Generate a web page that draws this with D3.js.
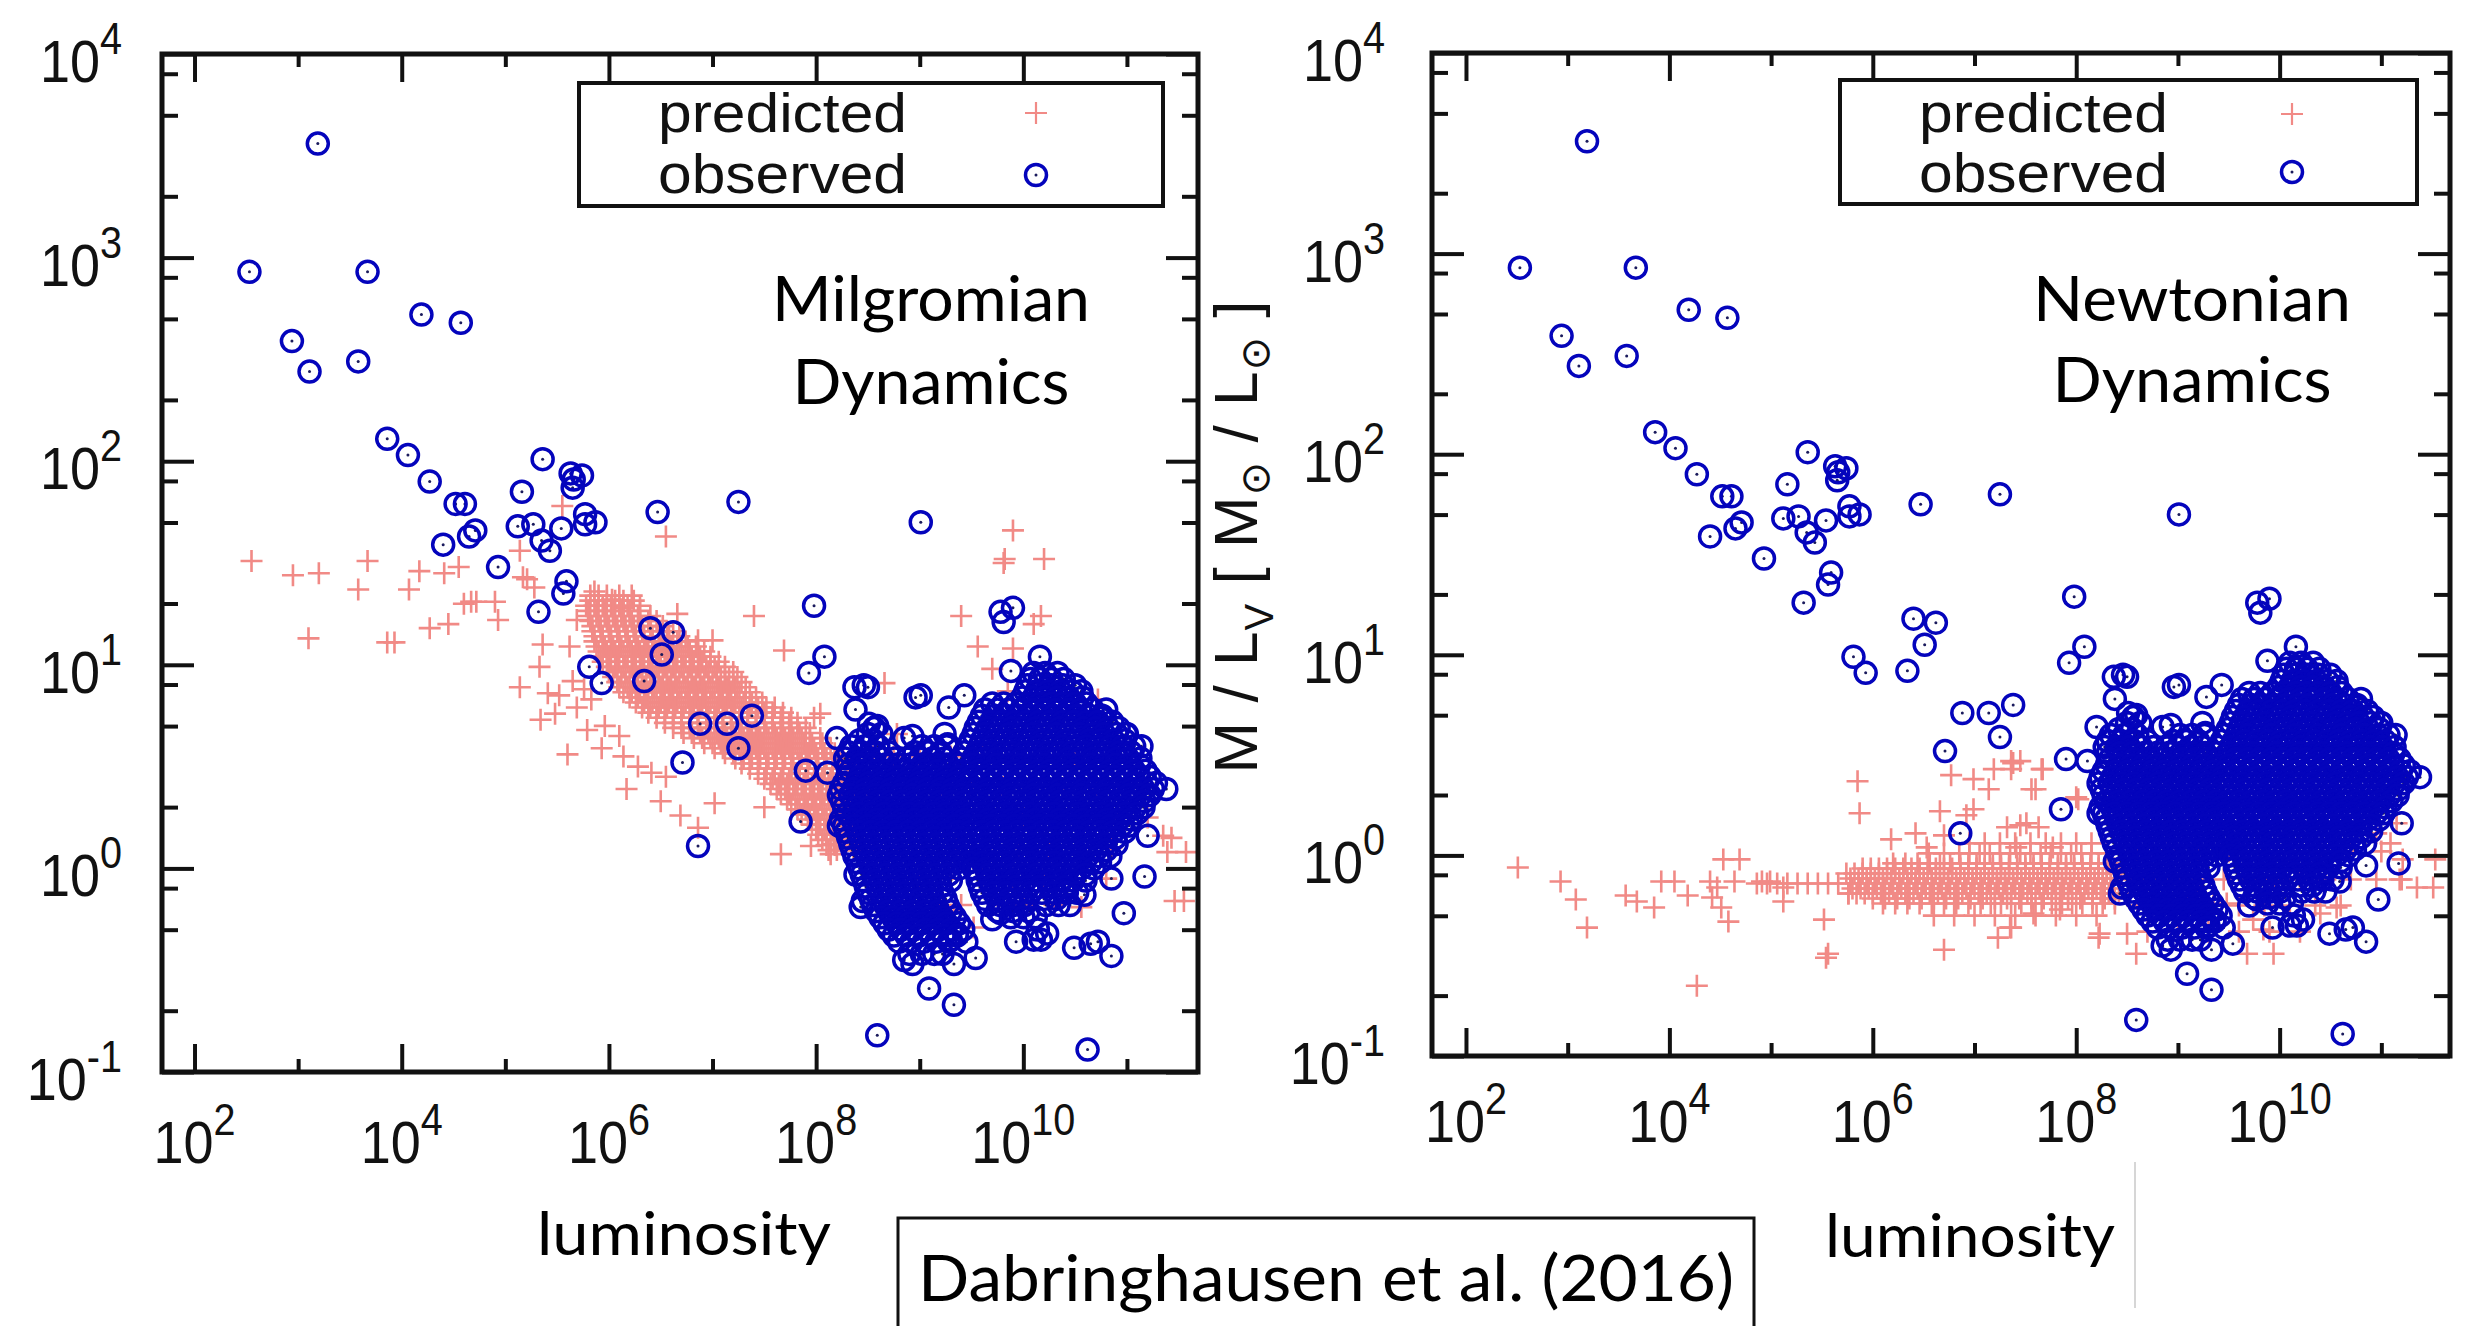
<!DOCTYPE html>
<html>
<head>
<meta charset="utf-8">
<script src="https://cdn.jsdelivr.net/npm/d3@7"></script>
<style>
  html, body { margin: 0; padding: 0; background: #fff; }
  svg { display: block; }
</style>
</head>
<body>
<svg id="fig" width="2471" height="1326"></svg>
<script>
// All values are log10(L_V / L_sun) and log10(M / L_V).

// Galaxies with an observed (dynamical) M/L — the same sample is shown in both panels.
const observedSparse = [
  [3.19,3.56],[2.53,2.93],[3.67,2.93],[4.19,2.72],[4.57,2.68],[2.94,2.59],[3.11,2.44],[3.58,2.49],
  [3.86,2.11],[4.06,2.03],[4.27,1.90],[4.52,1.79],[4.61,1.79],[4.40,1.59],[4.65,1.63],[4.71,1.66],[4.93,1.48],
  [5.16,1.85],[5.36,2.01],[5.12,1.68],[5.27,1.69],[5.35,1.61],[5.43,1.56],[5.54,1.67],
  [5.63,1.94],[5.74,1.93],[5.65,1.87],[5.66,1.91],[5.77,1.74],[5.77,1.69],[5.87,1.70],
  [5.59,1.41],[5.56,1.35],[5.32,1.26],
  [6.47,1.75],[7.25,1.80],[9.01,1.70],
  [7.98,1.29],[6.40,1.18],[6.62,1.16],[6.51,1.05],
  [8.08,1.04],[7.93,0.96],
  [9.78,1.26],[9.90,1.28],[9.81,1.21],[10.16,1.04],[9.88,0.97],
  [5.81,0.99],[5.93,0.91],[6.34,0.92],
  [6.88,0.71],[7.14,0.71],[7.38,0.75],[7.25,0.59],[6.71,0.52],[6.86,0.11],
  [7.85,0.23],[7.90,0.48],[8.11,0.47],
  [8.37,0.89],[8.46,0.90],[8.50,0.89],[8.38,0.78],
  [8.96,0.84],[9.01,0.85],[9.28,0.79],[9.43,0.85],[9.27,0.61],
  [8.20,0.64],[8.56,0.69],[8.59,0.70],[8.51,0.71],[8.85,0.64],[8.93,0.65],[9.24,0.66],
  [10.56,0.87],[10.75,0.74],[10.99,0.66],[11.14,0.60],[11.38,0.39],[11.20,0.16],[11.17,-0.04],
  [10.85,-0.05],[10.97,-0.22],[10.72,-0.36],[10.85,-0.43],[10.62,-0.89],
  [8.59,-0.82],[9.09,-0.59],[9.33,-0.67],[9.33,-0.47],[9.54,-0.44],[8.93,-0.47],[8.85,-0.45],[9.30,-0.35],[9.36,-0.32],
  [9.93,-0.36],[10.10,-0.35],[10.14,-0.30],[9.70,-0.25],[9.78,-0.22],
  [8.43,-0.19],[8.45,-0.16],[8.38,-0.03],[8.22,0.21],
  [10.39,-0.11],[10.59,-0.13],[10.65,-0.37],[10.49,-0.39],[10.23,-0.32],[10.17,-0.35]
];

// The crowded bright-galaxy cloud, one row per M/L level: [log M/L, [log L, ...]].
const observedCloudRows = [
  [0.96, [10.10,10.21,10.33]],
  [0.93, [10.07,10.16,10.27,10.39]],
  [0.90, [10.04,10.15,10.27,10.38,10.50]],
  [0.87, [10.02,10.13,10.24,10.36,10.47]],
  [0.84, [9.99,10.10,10.21,10.33,10.44,10.57]],
  [0.81, [9.70,9.81,9.93,10.04,10.16,10.27,10.38,10.50,10.61]],
  [0.78, [9.63,9.75,9.86,9.98,10.09,10.21,10.32,10.44,10.55,10.67,10.80]],
  [0.75, [9.60,9.72,9.83,9.95,10.06,10.18,10.29,10.41,10.52,10.64,10.76]],
  [0.72, [9.57,9.69,9.80,9.92,10.03,10.15,10.26,10.38,10.49,10.61,10.72,10.86]],
  [0.69, [9.54,9.66,9.77,9.89,10.00,10.12,10.23,10.35,10.46,10.58,10.70,10.82,10.92]],
  [0.66, [8.50,8.63,9.52,9.63,9.75,9.86,9.98,10.09,10.21,10.32,10.44,10.55,10.67,10.78,10.90,11.00]],
  [0.63, [8.42,8.55,9.49,9.60,9.72,9.83,9.95,10.06,10.18,10.29,10.41,10.52,10.64,10.75,10.87,10.98]],
  [0.60, [8.34,8.47,8.60,9.02,9.14,9.26,9.46,9.58,9.69,9.81,9.92,10.04,10.15,10.27,10.38,10.50,10.61,10.73,10.84,10.96,11.07]],
  [0.57, [8.31,8.44,8.57,8.70,8.95,9.08,9.20,9.43,9.55,9.66,9.78,9.89,10.01,10.12,10.24,10.35,10.47,10.58,10.70,10.81,10.93,11.04]],
  [0.54, [8.28,8.40,8.52,8.64,8.76,8.88,9.00,9.12,9.24,9.40,9.52,9.63,9.75,9.86,9.98,10.09,10.21,10.32,10.44,10.55,10.67,10.78,10.90,11.01,11.13]],
  [0.51, [8.31,8.43,8.55,8.67,8.79,8.91,9.03,9.15,9.27,9.39,9.51,9.63,9.74,9.86,9.97,10.09,10.20,10.32,10.43,10.55,10.66,10.78,10.89,11.01,11.12]],
  [0.48, [8.33,8.45,8.57,8.69,8.81,8.93,9.05,9.17,9.29,9.41,9.57,9.69,9.80,9.92,10.03,10.15,10.26,10.38,10.49,10.61,10.72,10.84,10.95,11.07,11.18]],
  [0.45, [8.30,8.42,8.54,8.66,8.78,8.90,9.02,9.14,9.26,9.38,9.50,9.62,9.73,9.85,9.96,10.08,10.19,10.31,10.42,10.54,10.65,10.77,10.88,11.00,11.11,11.22]],
  [0.42, [8.27,8.39,8.51,8.63,8.75,8.87,8.99,9.11,9.23,9.35,9.47,9.58,9.70,9.81,9.93,10.04,10.16,10.27,10.39,10.50,10.62,10.73,10.85,10.96,11.08,11.19,11.28]],
  [0.39, [8.24,8.36,8.48,8.60,8.72,8.84,8.96,9.08,9.20,9.32,9.44,9.55,9.67,9.78,9.90,10.01,10.13,10.24,10.36,10.47,10.59,10.70,10.82,10.93,11.05,11.16,11.25]],
  [0.36, [8.22,8.33,8.45,8.57,8.69,8.81,8.93,9.05,9.17,9.29,9.41,9.52,9.64,9.75,9.87,9.98,10.10,10.21,10.33,10.44,10.56,10.67,10.79,10.90,11.02,11.13,11.22]],
  [0.33, [8.25,8.36,8.48,8.60,8.72,8.84,8.96,9.08,9.20,9.32,9.44,9.55,9.67,9.78,9.90,10.01,10.13,10.24,10.36,10.47,10.59,10.70,10.82,10.93,11.05,11.17]],
  [0.30, [8.27,8.39,8.51,8.63,8.75,8.87,8.99,9.11,9.23,9.35,9.47,9.58,9.70,9.81,9.93,10.04,10.16,10.27,10.39,10.50,10.62,10.73,10.85,10.96,11.08,11.16]],
  [0.27, [8.30,8.42,8.54,8.66,8.78,8.90,9.02,9.14,9.26,9.38,9.50,9.61,9.73,9.84,9.96,10.07,10.19,10.30,10.42,10.53,10.65,10.76,10.88,10.99,11.10]],
  [0.24, [8.24,8.35,8.47,8.59,8.71,8.83,8.95,9.07,9.19,9.31,9.43,9.54,9.66,9.77,9.89,10.00,10.12,10.23,10.35,10.46,10.58,10.69,10.81,10.92,11.04]],
  [0.21, [8.27,8.38,8.50,8.62,8.74,8.86,8.98,9.10,9.22,9.34,9.46,9.57,9.69,9.80,9.92,10.03,10.15,10.26,10.38,10.49,10.61,10.72,10.84,10.95,11.02]],
  [0.18, [8.29,8.41,8.53,8.65,8.77,8.89,9.01,9.13,9.25,9.37,9.49,9.60,9.72,9.83,9.95,10.06,10.18,10.29,10.41,10.52,10.64,10.75,10.87,10.98]],
  [0.15, [8.31,8.43,8.55,8.67,8.79,8.91,9.03,9.15,9.27,9.39,9.51,9.62,9.74,9.85,9.97,10.08,10.20,10.31,10.43,10.54,10.66,10.77,10.89]],
  [0.12, [8.33,8.45,8.57,8.69,8.81,8.93,9.05,9.17,9.29,9.41,9.52,9.64,9.75,9.87,9.98,10.10,10.21,10.33,10.44,10.56,10.67,10.79,10.90]],
  [0.09, [8.35,8.47,8.59,8.71,8.83,8.95,9.07,9.19,9.31,9.43,9.55,9.67,9.78,9.90,10.01,10.13,10.24,10.36,10.47,10.59,10.70,10.80]],
  [0.06, [8.37,8.49,8.61,8.73,8.85,8.97,9.09,9.21,9.33,9.45,9.58,9.70,9.81,9.93,10.04,10.16,10.27,10.39,10.50,10.62,10.73,10.84]],
  [0.03, [8.40,8.52,8.64,8.76,8.88,9.00,9.12,9.24,9.36,9.48,9.61,9.73,9.84,9.96,10.07,10.19,10.30,10.42,10.53,10.65,10.74]],
  [0.00, [8.42,8.54,8.66,8.78,8.90,9.02,9.14,9.26,9.38,9.52,9.64,9.75,9.87,9.98,10.10,10.21,10.33,10.44,10.56,10.68]],
  [-0.03, [8.44,8.56,8.68,8.80,8.92,9.04,9.16,9.28,9.55,9.67,9.79,9.90,10.02,10.13,10.25,10.36,10.48,10.60]],
  [-0.06, [8.46,8.58,8.70,8.82,8.94,9.06,9.18,9.30,9.56,9.68,9.79,9.91,10.02,10.14,10.25,10.37,10.48,10.60]],
  [-0.09, [8.48,8.60,8.72,8.84,8.96,9.08,9.20,9.58,9.70,9.82,9.93,10.05,10.16,10.28,10.40]],
  [-0.12, [8.50,8.62,8.74,8.86,8.98,9.10,9.22,9.60,9.72,9.84,9.95,10.07,10.18,10.30,10.42,10.52]],
  [-0.15, [8.53,8.65,8.77,8.89,9.01,9.13,9.25,9.63,9.75,9.87,9.98,10.20,10.32]],
  [-0.18, [8.55,8.67,8.79,8.91,9.03,9.15,9.27,9.66,9.78,9.90,10.01,10.22,10.34,10.45]],
  [-0.21, [8.58,8.70,8.82,8.94,9.06,9.18,9.30,9.75,9.90,10.05]],
  [-0.24, [8.62,8.74,8.86,8.98,9.10,9.22,9.34,9.88,10.00,10.12]],
  [-0.27, [8.66,8.78,8.90,9.02,9.14,9.26,9.38]],
  [-0.30, [8.70,8.82,8.94,9.06,9.18,9.30,9.42]],
  [-0.33, [8.75,8.87,8.99,9.11,9.23,9.36]],
  [-0.36, [8.80,8.92,9.04,9.16,9.28,9.45]],
  [-0.42, [8.90,9.02,9.14,9.22]]
];

// M/L predicted with Milgromian dynamics.
const mondSparse = [
  [2.55,1.51],[2.95,1.44],[3.20,1.45],[3.67,1.51],[3.58,1.37],[3.10,1.13],[4.07,1.37],[4.17,1.46],[4.41,1.45],[4.55,1.48],
  [3.86,1.11],[3.93,1.11],[4.27,1.18],[4.45,1.20],[4.60,1.30],[4.67,1.31],[4.72,1.31],[4.90,1.31],[4.93,1.22],
  [5.14,1.56],[5.17,1.43],[5.21,1.42],[5.28,1.38],[5.55,1.78],[6.55,1.63],[5.36,1.10],[5.33,0.99],[5.14,0.89],
  [5.41,0.86],[5.52,0.85],[5.62,1.09],[5.69,1.22],[5.86,1.36],[6.03,1.32],[6.14,1.28],[5.60,0.56],[5.93,0.59],
  [6.17,0.39],[6.50,0.33],[6.69,0.26],[6.86,0.20],[7.02,0.32],[6.66,1.25],[6.86,1.12],[7.00,1.12],
  [5.34,0.73],[5.48,0.76],[5.69,0.79],[5.79,0.68],[5.96,0.70],[6.10,0.65],[6.14,0.55],[6.28,0.50],[6.41,0.47],
  [6.55,0.45],[5.76,0.88],[5.83,0.83],[5.65,0.92],
  [7.40,1.24],[7.69,1.07],[9.40,1.24],[9.56,1.09],[9.81,1.50],[9.90,1.66],[9.82,1.52],[10.20,1.52],
  [7.50,0.30],[7.66,0.07],[8.17,0.12],[10.17,1.24],[10.10,1.20],[9.90,1.08],[9.70,0.98],[8.66,0.91],
  [7.98,0.74],[8.04,0.76],[8.78,0.66],[9.85,0.87],[10.72,0.83],[8.14,0.07],[7.95,0.11],[9.33,-0.21],
  [9.52,-0.29],[11.39,0.08],[11.55,-0.16],[10.56,-0.19],[11.35,0.16],[11.57,0.08],[11.43,0.15],[11.46,-0.16]
];

const mondBandRows = [
  [1.34, [5.82,5.90,5.98,6.10,6.22]],
  [1.315, [5.82,5.90,5.98,6.06,6.14,6.24]],
  [1.29, [5.78,5.86,5.94,6.02,6.10,6.18,6.30]],
  [1.265, [5.80,5.88,5.96,6.04,6.12,6.20,6.30]],
  [1.24, [5.80,5.88,5.96,6.04,6.12,6.20,6.28,6.40]],
  [1.215, [5.82,5.90,5.98,6.06,6.14,6.22,6.30,6.38,6.46]],
  [1.19, [5.84,5.92,6.00,6.08,6.16,6.24,6.32,6.40,6.52]],
  [1.165, [5.84,5.92,6.00,6.08,6.16,6.24,6.32,6.40,6.48,6.56,6.62]],
  [1.14, [5.86,5.94,6.02,6.10,6.18,6.26,6.34,6.42,6.50,6.58,6.68]],
  [1.115, [5.86,5.94,6.02,6.10,6.18,6.26,6.34,6.42,6.50,6.58,6.66,6.74]],
  [1.09, [5.88,5.96,6.04,6.12,6.20,6.28,6.36,6.44,6.52,6.60,6.68,6.76,6.84]],
  [1.065, [5.90,5.98,6.06,6.14,6.22,6.30,6.38,6.46,6.54,6.62,6.70,6.78,6.86,6.92]],
  [1.04, [5.92,6.00,6.08,6.16,6.24,6.32,6.40,6.48,6.56,6.64,6.72,6.80,6.88,6.98]],
  [1.015, [5.94,6.02,6.10,6.18,6.26,6.34,6.42,6.50,6.58,6.66,6.74,6.82,6.90,6.98,7.06]],
  [0.99, [5.98,6.06,6.14,6.22,6.30,6.38,6.46,6.54,6.62,6.70,6.78,6.86,6.94,7.02,7.12]],
  [0.965, [6.00,6.08,6.16,6.24,6.32,6.40,6.48,6.56,6.64,6.72,6.80,6.88,6.96,7.04,7.12,7.20]],
  [0.94, [6.04,6.12,6.20,6.28,6.36,6.44,6.52,6.60,6.68,6.76,6.84,6.92,7.00,7.08,7.16,7.24]],
  [0.915, [6.08,6.16,6.24,6.32,6.40,6.48,6.56,6.64,6.72,6.80,6.88,6.96,7.04,7.12,7.20,7.28]],
  [0.89, [6.10,6.18,6.26,6.34,6.42,6.50,6.58,6.66,6.74,6.82,6.90,6.98,7.06,7.14,7.22,7.32]],
  [0.865, [6.14,6.22,6.30,6.38,6.46,6.54,6.62,6.70,6.78,6.86,6.94,7.02,7.10,7.18,7.26,7.36]],
  [0.84, [6.20,6.28,6.36,6.44,6.52,6.60,6.68,6.76,6.84,6.92,7.00,7.08,7.16,7.24,7.32,7.42]],
  [0.815, [6.26,6.34,6.42,6.50,6.58,6.66,6.74,6.82,6.90,6.98,7.06,7.14,7.22,7.30,7.38,7.48]],
  [0.79, [6.32,6.40,6.48,6.56,6.64,6.72,6.80,6.88,6.96,7.04,7.12,7.20,7.28,7.36,7.44,7.52,7.60]],
  [0.765, [6.38,6.46,6.54,6.62,6.70,6.78,6.86,6.94,7.02,7.10,7.18,7.26,7.34,7.42,7.50,7.58,7.68]],
  [0.74, [6.46,6.54,6.62,6.70,6.78,6.86,6.94,7.02,7.10,7.18,7.26,7.34,7.42,7.50,7.58,7.66,7.76]],
  [0.715, [6.54,6.62,6.70,6.78,6.86,6.94,7.02,7.10,7.18,7.26,7.34,7.42,7.50,7.58,7.66,7.74,7.82]],
  [0.69, [6.62,6.70,6.78,6.86,6.94,7.02,7.10,7.18,7.26,7.34,7.42,7.50,7.58,7.66,7.74,7.82,7.90]],
  [0.665, [6.72,6.80,6.88,6.96,7.04,7.12,7.20,7.28,7.36,7.44,7.52,7.60,7.68,7.76,7.84,7.94]],
  [0.64, [6.82,6.90,6.98,7.06,7.14,7.22,7.30,7.38,7.46,7.54,7.62,7.70,7.78,7.86,7.94,8.04]],
  [0.615, [6.92,7.00,7.08,7.16,7.24,7.32,7.40,7.48,7.56,7.64,7.72,7.80,7.88,7.96,8.06]],
  [0.59, [7.02,7.10,7.18,7.26,7.34,7.42,7.50,7.58,7.66,7.74,7.82,7.90,7.98,8.06,8.14]],
  [0.565, [7.12,7.20,7.28,7.36,7.44,7.52,7.60,7.68,7.76,7.84,7.92,8.00,8.08,8.18]],
  [0.54, [7.22,7.30,7.38,7.46,7.54,7.62,7.70,7.78,7.86,7.94,8.02,8.10,8.18,8.26]],
  [0.515, [7.28,7.36,7.44,7.52,7.60,7.68,7.76,7.84,7.92,8.00,8.08,8.16,8.24,8.30]],
  [0.49, [7.36,7.44,7.52,7.60,7.68,7.76,7.84,7.92,8.00,8.08,8.16,8.24,8.32]],
  [0.465, [7.44,7.52,7.60,7.68,7.76,7.84,7.92,8.00,8.08,8.16,8.24,8.32]],
  [0.44, [7.50,7.58,7.66,7.74,7.82,7.90,7.98,8.06,8.14,8.22,8.30,8.38]],
  [0.415, [7.56,7.64,7.72,7.80,7.88,7.96,8.04,8.12,8.20,8.28,8.36]],
  [0.39, [7.62,7.70,7.78,7.86,7.94,8.02,8.10,8.18,8.26,8.34,8.42]],
  [0.365, [7.66,7.74,7.82,7.90,7.98,8.06,8.14,8.22,8.30,8.38]],
  [0.34, [7.72,7.80,7.88,7.96,8.04,8.12,8.20,8.28,8.36,8.44]],
  [0.315, [7.76,7.84,7.92,8.00,8.08,8.16,8.24,8.32,8.40]],
  [0.29, [7.82,7.90,7.98,8.06,8.14,8.22,8.30,8.38,8.46]],
  [0.265, [7.86,7.94,8.02,8.10,8.18,8.26,8.34,8.42]],
  [0.24, [7.92,8.00,8.08,8.16,8.24,8.32,8.40]],
  [0.215, [7.96,8.04,8.12,8.20,8.28,8.36]],
  [0.19, [8.00,8.08,8.16,8.24,8.32,8.40]],
  [0.165, [8.02,8.10,8.18,8.26,8.34]],
  [0.14, [8.06,8.14,8.22,8.30,8.38]],
  [0.115, [8.10,8.18,8.26,8.34]],
  [0.09, [8.12,8.20,8.28,8.36]],
  [0.55, [8.55,8.75,9.00,9.30,9.60,9.90,10.20,10.50,10.80]],
  [0.40, [8.50,8.70,8.95,9.20,9.50,9.80,10.10,10.40,10.70,11.00]],
  [0.25, [8.60,8.85,9.10,9.40,9.70,10.00,10.30,10.60,10.90,11.20]],
  [0.10, [8.55,8.80,9.05,9.35,9.65,9.95,10.25,10.55,10.85]],
  [-0.05, [8.70,9.00,9.30,9.60,9.90,10.20,10.50,10.80]],
  [-0.18, [9.20,9.40,9.80,10.00,10.30]]
];

// M/L predicted with Newtonian dynamics.
const newtonSparse = [
  [2.51,-0.06],[2.93,-0.13],[3.08,-0.22],[3.19,-0.36],[3.57,-0.20],[3.68,-0.23],[3.85,-0.26],[3.92,-0.13],
  [4.05,-0.13],[4.18,-0.20],[4.27,-0.65],[4.40,-0.13],[4.47,-0.16],[4.42,-0.21],[4.53,-0.02],[4.69,-0.02],
  [4.64,-0.13],[4.58,-0.33],[4.51,-0.26],[4.91,-0.13],[4.99,-0.13],[5.12,-0.16],[5.12,-0.23],[5.52,-0.32],
  [5.56,-0.49],[5.54,-0.51],[5.76,-0.19],[5.85,0.37],[5.87,0.21],[6.18,0.08],[6.70,-0.47],[6.77,0.40],
  [6.99,0.38],[7.14,0.33],[6.66,0.22],[6.92,0.20],[6.99,0.23],[7.19,0.43],[7.36,0.47],[7.45,0.47],[7.36,0.43],
  [7.60,0.33],[7.67,0.43],[7.45,0.15],[7.63,0.14],[7.23,-0.41],[7.36,-0.36],[6.70,0.10],[6.53,0.04],[6.42,0.11],
  [8.02,0.28],[8.22,-0.41],[8.50,-0.39],[7.38,0.46],[7.66,0.43],[7.56,0.33],[8.00,0.29],[7.32,0.14],[7.51,0.16],
  [7.77,0.04],[7.41,0.04],[7.35,-0.36],[7.58,-0.29],[7.84,-0.27],[8.23,-0.39],[8.59,-0.49],[9.19,-0.19],
  [9.48,-0.24],[9.68,-0.49],[9.74,-0.32],[9.94,-0.49],[9.84,-0.37],[10.40,-0.29],[10.56,-0.26],[10.95,0.11],
  [11.09,0.06],[11.18,-0.12],[11.35,-0.16],[11.51,-0.16],[10.76,0.23],[11.21,-0.02],[11.53,-0.02],[11.15,0.16]
];

const newtonBandRows = [
  [0.06, [6.95,7.10,7.25,7.40,7.55,7.70,7.85,8.00,8.15]],
  [0.01, [6.55,6.70,6.85,6.95,7.05,7.15,7.25,7.35,7.45,7.55,7.65,7.75,7.85,7.95,8.05,8.15,8.30]],
  [-0.04, [6.20,6.32,6.44,6.56,6.66,6.76,6.86,6.94,7.02,7.10,7.18,7.26,7.34,7.42,7.50,7.58,7.66,7.74,7.82,7.90,7.98,8.06,8.14,8.22,8.32]],
  [-0.065, [5.90,5.98,6.06,6.14,6.22,6.30,6.38,6.46,6.54,6.62,6.70,6.78,6.86,6.94,7.02,7.10,7.18,7.26,7.34,7.42,7.50,7.58,7.66,7.74,7.82,7.90,7.98,8.06,8.14,8.22,8.30,8.38]],
  [-0.09, [5.74,5.82,5.90,5.98,6.06,6.14,6.22,6.30,6.38,6.46,6.54,6.62,6.70,6.78,6.86,6.94,7.02,7.10,7.18,7.26,7.34,7.42,7.50,7.58,7.66,7.74,7.82,7.90,7.98,8.06,8.14,8.22,8.30,8.40]],
  [-0.115, [5.78,5.86,5.94,6.02,6.10,6.18,6.26,6.34,6.42,6.50,6.58,6.66,6.74,6.82,6.90,6.98,7.06,7.14,7.22,7.30,7.38,7.46,7.54,7.62,7.70,7.78,7.86,7.94,8.02,8.10,8.18,8.26,8.34,8.42]],
  [-0.14, [4.86,4.96,5.06,5.16,5.26,5.36,5.46,5.56,5.66,5.78,5.86,5.94,6.02,6.10,6.18,6.26,6.34,6.42,6.50,6.58,6.66,6.74,6.82,6.90,6.98,7.06,7.14,7.22,7.30,7.38,7.46,7.54,7.62,7.70,7.78,7.86,7.94,8.02,8.10,8.18,8.26,8.34,8.44]],
  [-0.165, [5.80,5.88,5.96,6.04,6.12,6.20,6.28,6.36,6.44,6.52,6.60,6.68,6.76,6.84,6.92,7.00,7.08,7.16,7.24,7.32,7.40,7.48,7.56,7.64,7.72,7.80,7.88,7.96,8.04,8.12,8.20,8.28,8.36]],
  [-0.19, [5.76,5.84,5.92,6.00,6.08,6.16,6.24,6.32,6.40,6.48,6.56,6.64,6.72,6.80,6.88,6.96,7.04,7.12,7.20,7.28,7.36,7.44,7.52,7.60,7.68,7.76,7.84,7.92,8.00,8.08,8.16,8.24,8.32,8.42]],
  [-0.215, [6.00,6.12,6.24,6.36,6.48,6.60,6.72,6.84,6.96,7.08,7.20,7.32,7.44,7.56,7.68,7.80,7.92,8.04,8.16,8.28,8.38]],
  [-0.24, [6.10,6.22,6.34,6.46,6.58,6.70,6.82,6.94,7.06,7.16,7.26,7.36,7.46,7.56,7.66,7.76,7.86,7.96,8.06,8.16,8.26,8.38]],
  [-0.30, [6.60,6.80,7.00,7.20,7.40,7.60,7.80,8.00,8.20]],
  [0.02, [8.60,8.90,9.20,9.50,9.80,10.10,10.40,10.70,11.00]],
  [-0.12, [8.55,8.75,8.95,9.20,9.45,9.70,9.95,10.20,10.45,10.70,10.95,11.20]],
  [-0.25, [8.60,8.85,9.10,9.35,9.60,9.85,10.10,10.35,10.60]],
  [-0.38, [8.70,9.00,9.30,9.60,9.90,10.20]]
];

// Axis ticks: every decade on both axes, labels on even luminosity decades,
// minor M/L ticks at 2, 5 and 8 times each power of ten.
const xTickExponents = [2, 3, 4, 5, 6, 7, 8, 9, 10, 11];
const xLabelExponents = [2, 4, 6, 8, 10];
const yTickExponents = [-1, 0, 1, 2, 3, 4];
const yMinorMantissas = [2, 5, 8];

const legendLabels = ["predicted", "observed"];
const panelTitles = [["Milgromian", "Dynamics"], ["Newtonian", "Dynamics"]];
const xTitle = "luminosity";
const citation = "Dabringhausen et al. (2016)";

function fromRows(rows) {
  const pts = [];
  rows.forEach(([ml, ls]) => ls.forEach(l => pts.push([l, ml])));
  return pts;
}
const observed = observedSparse.concat(fromRows(observedCloudRows));
const mondPredicted = mondSparse.concat(fromRows(mondBandRows));
const newtonPredicted = newtonSparse.concat(fromRows(newtonBandRows));

const PINK = "#f18a86";
const BLUE = "#0404bc";
const DOT = "#1a1a5c";
const INK = "#111";
const SANS = "'Liberation Sans', Arial, Helvetica, sans-serif";
const HUMANIST = "Lato, 'Open Sans', sans-serif";

const svg = d3.select("#fig");
svg.append("rect").attr("width", 2471).attr("height", 1326).attr("fill", "#fff");

const layouts = [
  { x0: 162, x1: 1198, y0: 54, y1: 1072, lx: [1.686, 11.686], pred: mondPredicted,
    xLabelBase: 1163, yLabelRight: 122,
    legend: { x: 579, y: 83, w: 584, h: 123, tx: 658, sx: 1036, rows: [132, 193], sy: [113, 175] },
    title: { cx: 931, base: [321, 404], widths: [318, 277] },
    xt: { cx: 684, base: 1255, w: 294 } },
  { x0: 1432, x1: 2450, y0: 53, y1: 1056, lx: [1.666, 11.675], pred: newtonPredicted,
    xLabelBase: 1142, yLabelRight: 1385,
    legend: { x: 1840, y: 80, w: 577, h: 124, tx: 1919, sx: 2292, rows: [132, 192], sy: [114, 172] },
    title: { cx: 2192, base: [321, 402], widths: [318, 279] },
    xt: { cx: 1970, base: 1257, w: 290 } }
];

function powerLabel(parent, x, y, exp, anchor) {
  const t = parent.append("text")
    .attr("transform", `translate(${x},${y}) scale(0.9,1)`)
    .attr("text-anchor", anchor)
    .attr("font-family", SANS)
    .attr("font-size", 60)
    .attr("fill", INK);
  t.append("tspan").text("10");
  t.append("tspan").attr("font-size", 44).attr("dy", -28).text(String(exp));
}

function crossPath(cx, cy) {
  return `M${cx - 11},${cy}h22M${cx},${cy - 11}v22`;
}

layouts.forEach((p, i) => {
  const x = d3.scaleLog().domain([10 ** p.lx[0], 10 ** p.lx[1]]).range([p.x0, p.x1]);
  const y = d3.scaleLog().domain([0.1, 1e4]).range([p.y1, p.y0]);
  const g = svg.append("g");

  // predicted M/L (crosses), then observed (ringed dots) on top
  g.append("g").selectAll("path").data(p.pred).join("path")
    .attr("d", d => crossPath(x(10 ** d[0]), y(10 ** d[1])))
    .attr("stroke", PINK).attr("stroke-width", 2.6).attr("fill", "none");

  const obs = g.append("g");
  // centre dots first, so that neighbouring rings in the crowded cloud sit over them
  obs.selectAll("circle.dot").data(observed).join("circle")
    .attr("class", "dot")
    .attr("cx", d => x(10 ** d[0])).attr("cy", d => y(10 ** d[1]))
    .attr("r", 1.5).attr("fill", DOT);
  obs.selectAll("circle.ring").data(observed).join("circle")
    .attr("class", "ring")
    .attr("cx", d => x(10 ** d[0])).attr("cy", d => y(10 ** d[1]))
    .attr("r", 10.5).attr("fill", "none").attr("stroke", BLUE).attr("stroke-width", 3.5);

  // ticks on all four sides
  const xMajor = xTickExponents.filter(e => e % 2 === 0).map(e => 10 ** e);
  const xMinor = xTickExponents.filter(e => e % 2 !== 0).map(e => 10 ** e);
  const yMajor = yTickExponents.map(e => 10 ** e);
  const yMinor = [];
  yTickExponents.forEach(e => yMinorMantissas.forEach(m => {
    const v = m * 10 ** e;
    if (v < 1e4) yMinor.push(v);
  }));

  const tickGroups = [
    [d3.axisBottom(x).tickValues(xMajor).tickSizeInner(-28), `translate(0,${p.y1})`],
    [d3.axisBottom(x).tickValues(xMinor).tickSizeInner(-13), `translate(0,${p.y1})`],
    [d3.axisTop(x).tickValues(xMajor).tickSizeInner(-28), `translate(0,${p.y0})`],
    [d3.axisTop(x).tickValues(xMinor).tickSizeInner(-13), `translate(0,${p.y0})`],
    [d3.axisLeft(y).tickValues(yMajor).tickSizeInner(-32), `translate(${p.x0},0)`],
    [d3.axisLeft(y).tickValues(yMinor).tickSizeInner(-16), `translate(${p.x0},0)`],
    [d3.axisRight(y).tickValues(yMajor).tickSizeInner(-32), `translate(${p.x1},0)`],
    [d3.axisRight(y).tickValues(yMinor).tickSizeInner(-16), `translate(${p.x1},0)`]
  ];
  tickGroups.forEach(([axis, tr]) => {
    const a = g.append("g").attr("transform", tr)
      .call(axis.tickSizeOuter(0).tickFormat(""));
    a.select(".domain").remove();
    a.selectAll("line").attr("stroke", INK).attr("stroke-width", 4);
  });

  g.append("rect")
    .attr("x", p.x0).attr("y", p.y0)
    .attr("width", p.x1 - p.x0).attr("height", p.y1 - p.y0)
    .attr("fill", "none").attr("stroke", INK).attr("stroke-width", 5);

  // tick labels
  xLabelExponents.forEach(e => powerLabel(g, x(10 ** e), p.xLabelBase, e, "middle"));
  yTickExponents.forEach(e => powerLabel(g, p.yLabelRight, y(10 ** e) + 28, e, "end"));

  // legend
  const L = p.legend;
  const lg = g.append("g");
  lg.append("rect").attr("x", L.x).attr("y", L.y).attr("width", L.w).attr("height", L.h)
    .attr("fill", "#fff").attr("stroke", INK).attr("stroke-width", 4);
  legendLabels.forEach((lab, k) => {
    lg.append("text").attr("x", L.tx).attr("y", L.rows[k])
      .attr("font-family", SANS).attr("font-size", 56).attr("fill", INK)
      .attr("textLength", 249).attr("lengthAdjust", "spacingAndGlyphs")
      .text(lab);
  });
  lg.append("path").attr("d", crossPath(L.sx, L.sy[0]))
    .attr("stroke", PINK).attr("stroke-width", 2.2).attr("fill", "none");
  lg.append("circle").attr("cx", L.sx).attr("cy", L.sy[1]).attr("r", 10.5)
    .attr("fill", "none").attr("stroke", BLUE).attr("stroke-width", 3.5);
  lg.append("circle").attr("cx", L.sx).attr("cy", L.sy[1]).attr("r", 1.5).attr("fill", DOT);

  // panel title
  panelTitles[i].forEach((line, k) => {
    g.append("text").attr("x", p.title.cx).attr("y", p.title.base[k])
      .attr("text-anchor", "middle").attr("font-family", HUMANIST).attr("font-size", 62)
      .attr("fill", "#000")
      .attr("textLength", p.title.widths[k]).attr("lengthAdjust", "spacingAndGlyphs")
      .text(line);
  });

  // x-axis title
  g.append("text").attr("x", p.xt.cx).attr("y", p.xt.base)
    .attr("text-anchor", "middle").attr("font-family", HUMANIST).attr("font-size", 60)
    .attr("fill", "#000")
    .attr("textLength", p.xt.w).attr("lengthAdjust", "spacingAndGlyphs")
    .text(xTitle);
});

// shared y-axis title between the panels
const yt = svg.append("text")
  .attr("transform", "translate(1257,537) rotate(-90)")
  .attr("text-anchor", "middle")
  .attr("font-family", SANS).attr("font-size", 62).attr("fill", INK)
  .attr("textLength", 473).attr("lengthAdjust", "spacing");
yt.append("tspan").text("M / L");
yt.append("tspan").attr("font-size", 40).attr("dy", 16).text("V");
yt.append("tspan").attr("dy", -16).text("  [ M");
yt.append("tspan").attr("font-size", 40).attr("dy", 12).attr("font-family", "'DejaVu Sans', sans-serif").text("\u2299");
yt.append("tspan").attr("dy", -12).text(" / L");
yt.append("tspan").attr("font-size", 40).attr("dy", 12).attr("font-family", "'DejaVu Sans', sans-serif").text("\u2299");
yt.append("tspan").attr("dy", -12).text(" ]");

// citation box along the bottom edge
svg.append("rect").attr("x", 898).attr("y", 1218).attr("width", 856).attr("height", 130)
  .attr("fill", "#fff").attr("stroke", INK).attr("stroke-width", 3);
svg.append("text").attr("x", 918).attr("y", 1301)
  .attr("font-family", HUMANIST).attr("font-size", 64).attr("fill", "#000")
  .attr("textLength", 816).attr("lengthAdjust", "spacingAndGlyphs")
  .text(citation);

// thin rule to the right of the second luminosity label
svg.append("line").attr("x1", 2135).attr("x2", 2135).attr("y1", 1162).attr("y2", 1308)
  .attr("stroke", "#c8c8c8").attr("stroke-width", 1.5);
</script>
</body>
</html>
